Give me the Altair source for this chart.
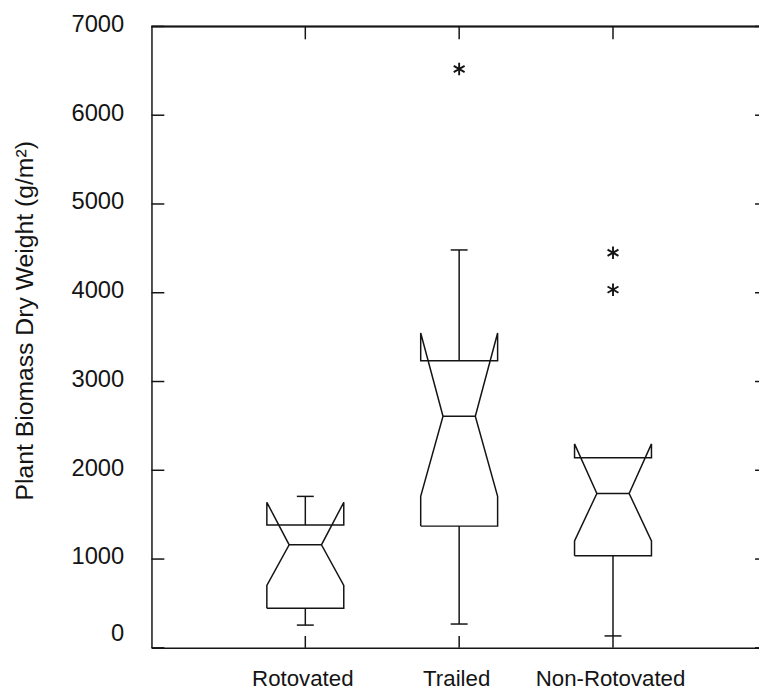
import altair as alt
import pandas as pd

# ---------------- data ----------------
categories = ["Rotovated", "Trailed", "Non-Rotovated"]
q1 = [446, 1371, 1037]
median = [1160, 2609, 1739]
q3 = [1383, 3234, 2141]
notch_lo = [702, 1706, 1204]
notch_hi = [1639, 3546, 2297]
whisker_lo = [256, 268, 134]
whisker_hi = [1706, 4482, 2141]
outlier_group = ["Trailed", "Non-Rotovated", "Non-Rotovated"]
outlier_value = [6520, 4450, 4035]
y_ticks = [0, 1000, 2000, 3000, 4000, 5000, 6000, 7000]

# ---------------- layout / style ----------------
W, H = 614, 628
X_MAX = 3.949
BOX_HALF = 0.25
MED_HALF = 0.105
CAP_HALF = 0.055
INK = "#141414"
LW = 1.5
FONT = "Liberation Sans"

pos = {c: i + 1 for i, c in enumerate(categories)}

# outline polygon of each notched box
rows = []
for i, c in enumerate(categories):
    p = pos[c]
    pts = [
        (p - BOX_HALF, q1[i]), (p - BOX_HALF, notch_lo[i]), (p - MED_HALF, median[i]),
        (p - BOX_HALF, notch_hi[i]), (p - BOX_HALF, q3[i]), (p + BOX_HALF, q3[i]),
        (p + BOX_HALF, notch_hi[i]), (p + MED_HALF, median[i]), (p + BOX_HALF, notch_lo[i]),
        (p + BOX_HALF, q1[i]), (p - BOX_HALF, q1[i]),
    ]
    for k, (x, y) in enumerate(pts):
        rows.append({"group": c, "k": k, "x": x, "y": y})
outline = pd.DataFrame(rows)

stats = pd.DataFrame({
    "group": categories,
    "p": [pos[c] for c in categories],
    "q1": q1, "median": median, "q3": q3,
    "wlo": whisker_lo, "whi": whisker_hi,
})
stats["mlo"] = stats["p"] - MED_HALF
stats["mhi"] = stats["p"] + MED_HALF

caps = []
for i, c in enumerate(categories):
    caps.append({"p": pos[c], "v": whisker_lo[i]})
    if whisker_hi[i] > q3[i]:
        caps.append({"p": pos[c], "v": whisker_hi[i]})
caps = pd.DataFrame(caps)
caps["clo"] = caps["p"] - CAP_HALF
caps["chi"] = caps["p"] + CAP_HALF

outl = pd.DataFrame({"p": [pos[g] for g in outlier_group], "v": outlier_value})
ticks_y = pd.DataFrame({"v": y_ticks})
ticks_x = pd.DataFrame({"p": [pos[c] for c in categories]})

# ---------------- scales / axes ----------------
xs = alt.Scale(domain=[0, X_MAX], nice=False, zero=False)
ys = alt.Scale(domain=[0, 7000], nice=False, zero=False)

label_js = "[''," + ",".join("'" + c + "'" for c in categories) + "]"
xaxis = alt.Axis(
    values=[1, 2, 3], labelExpr=label_js + "[datum.value]", title=None,
    grid=False, ticks=False, tickSize=0, domain=True, domainColor=INK, domainWidth=LW,
    labelFont=FONT, labelFontSize=22.5, labelColor=INK, labelPadding=38,
    labelBaseline="alphabetic", labelOffset=-3, labelFlush=False, labelOverlap=False,
)
yaxis = alt.Axis(
    values=y_ticks, format="d", title="Plant Biomass Dry Weight (g/m\u00b2)",
    grid=False, ticks=False, tickSize=0, domain=True, domainColor=INK, domainWidth=LW,
    labelFont=FONT, labelFontSize=24, labelColor=INK, labelPadding=28,
    labelBaseline="middle", labelFlush=False, labelOverlap=False,
    labelOffset={"condition": {"test": "datum.value == 0", "value": -14}, "value": -2},
    titleFont=FONT, titleFontSize=25, titleFontWeight="normal", titleColor=INK,
    titleX=-128, titleY=297, titleAngle=270, titleAlign="center", titleBaseline="middle",
)


def X(f):
    return alt.X(f, type="quantitative", scale=xs, axis=xaxis)


def Y(f):
    return alt.Y(f, type="quantitative", scale=ys, axis=yaxis)


boxes = alt.Chart(outline).mark_line(color=INK, strokeWidth=LW, strokeJoin="miter").encode(
    x=X("x"), y=Y("y"), order="k:Q", detail="group:N"
)
meds = alt.Chart(stats).mark_rule(color=INK, strokeWidth=LW).encode(
    x=X("mlo"), x2="mhi", y=Y("median")
)
wh_up = alt.Chart(stats).mark_rule(color=INK, strokeWidth=LW).encode(
    x=X("p"), y=Y("q3"), y2="whi"
)
wh_lo = alt.Chart(stats).mark_rule(color=INK, strokeWidth=LW).encode(
    x=X("p"), y=Y("wlo"), y2="q1"
)
cap_marks = alt.Chart(caps).mark_rule(color=INK, strokeWidth=LW).encode(
    x=X("clo"), x2="chi", y=Y("v")
)
star = "M0,-1L0,1M-0.87,-0.5L0.87,0.5M-0.87,0.5L0.87,-0.5"
outliers = alt.Chart(outl).mark_point(
    shape=star, size=160, filled=False, color=INK, strokeWidth=1.9, opacity=1
).encode(x=X("p"), y=Y("v"))

# frame pieces and inward ticks
top_line = alt.Chart(ticks_x).mark_rule(color=INK, strokeWidth=LW).encode(
    x=alt.value(0), x2=alt.value(W), y=alt.value(0)
)
left_ticks = alt.Chart(ticks_y).mark_rule(color=INK, strokeWidth=LW).encode(
    y=Y("v"), x=alt.value(0), x2=alt.value(13)
)
right_ticks = alt.Chart(ticks_y).mark_rule(color=INK, strokeWidth=LW).encode(
    y=Y("v"), x=alt.value(W - 4), x2=alt.value(W)
)
top_ticks = alt.Chart(ticks_x).mark_rule(color=INK, strokeWidth=LW).encode(
    x=X("p"), y=alt.value(0), y2=alt.value(13)
)
bottom_ticks = alt.Chart(ticks_x).mark_rule(color=INK, strokeWidth=LW).encode(
    x=X("p"), y=alt.value(H - 12), y2=alt.value(H)
)

chart = alt.layer(
    boxes, meds, wh_up, wh_lo, cap_marks, outliers,
    top_line, left_ticks, right_ticks, top_ticks, bottom_ticks,
).properties(
    width=W, height=H,
    padding={"left": 145, "top": 15, "right": 0, "bottom": 40},
    autosize=alt.AutoSizeParams(type="none"),
    background="white",
).configure_view(stroke=None)

chart.save("out.html", embed_options={"renderer": "svg", "actions": False})
